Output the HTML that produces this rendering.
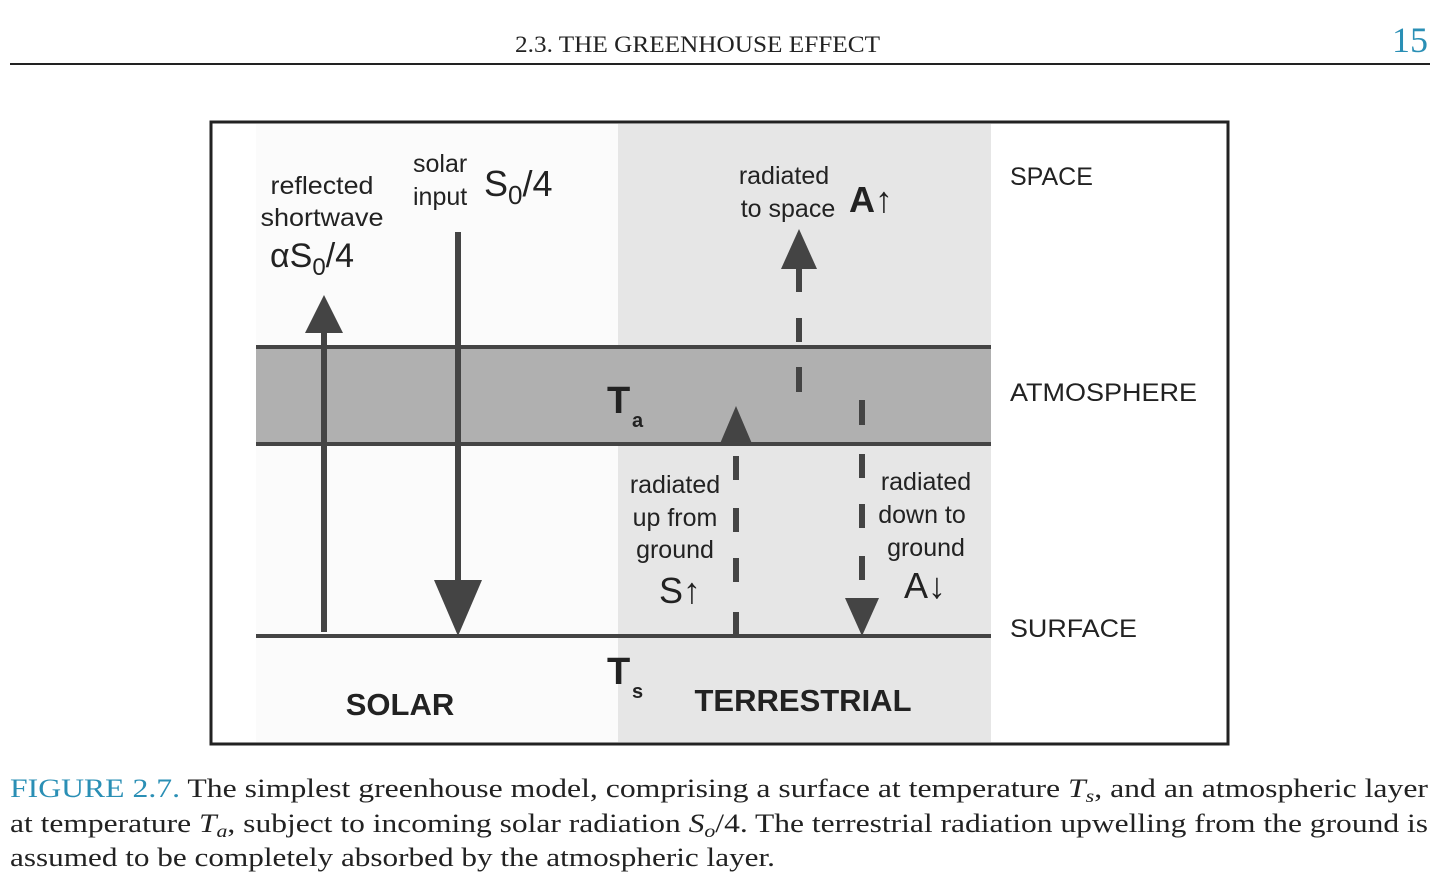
<!DOCTYPE html>
<html><head><meta charset="utf-8"><style>
html,body{margin:0;padding:0;background:#fff;width:1441px;height:881px;overflow:hidden}
svg{display:block}
.s{font-family:"Liberation Sans",sans-serif;fill:#222}
.r{font-family:"Liberation Serif",serif;fill:#222}
</style></head><body>
<svg width="1441" height="881" viewBox="0 0 1441 881" xmlns="http://www.w3.org/2000/svg">
<text x="515" y="52" class="r" font-size="23" textLength="365" lengthAdjust="spacingAndGlyphs">2.3.  THE GREENHOUSE EFFECT</text>
<text x="1428" y="52" class="r" font-size="36" text-anchor="end" style="fill:#2a8fb5">15</text>
<rect x="10" y="63" width="1420" height="2" fill="#222"/>

<rect x="211" y="122" width="1017" height="622" fill="#fff" stroke="#222" stroke-width="3"/>
<rect x="256" y="124" width="362" height="618" fill="#fbfbfb"/>
<rect x="618" y="124" width="373" height="618" fill="#e6e6e6"/>
<rect x="256" y="347" width="735" height="97" fill="#b0b0b0"/>
<rect x="256" y="345" width="735" height="4" fill="#444"/>
<rect x="256" y="442" width="735" height="4" fill="#444"/>
<rect x="256" y="634" width="735" height="4" fill="#444"/>

<g fill="#444">
<rect x="321" y="325" width="6" height="307"/>
<polygon points="324,295 305,333 343,333"/>
<rect x="455" y="232" width="6" height="360"/>
<polygon points="434,580 482,580 458,636"/>
<rect x="796" y="268" width="6" height="24"/>
<rect x="796" y="318" width="6" height="24"/>
<rect x="796" y="367" width="6" height="25"/>
<polygon points="799,229 781,269 817,269"/>
<rect x="733" y="456" width="6" height="24"/>
<rect x="733" y="508" width="6" height="24"/>
<rect x="733" y="558" width="6" height="24"/>
<rect x="733" y="612" width="6" height="24"/>
<polygon points="736,406 719,446 753,446"/>
<rect x="859" y="400" width="6" height="25"/>
<rect x="859" y="454" width="6" height="24"/>
<rect x="859" y="504" width="6" height="24"/>
<rect x="859" y="556" width="6" height="24"/>
<polygon points="845,598 879,598 862,636"/>
</g>

<g class="s" font-size="25">
<text x="322" y="194" text-anchor="middle" textLength="103" lengthAdjust="spacingAndGlyphs">reflected</text>
<text x="322" y="226" text-anchor="middle" textLength="123" lengthAdjust="spacingAndGlyphs">shortwave</text>
<text x="270" y="267" font-size="34">αS<tspan font-size="24" dy="8">0</tspan><tspan dy="-8">/4</tspan></text>
<text x="413" y="172">solar</text>
<text x="413" y="205">input</text>
<text x="484" y="196" font-size="36">S<tspan font-size="26" dy="8">0</tspan><tspan dy="-8">/4</tspan></text>
<text x="784" y="184" text-anchor="middle">radiated</text>
<text x="788" y="217" text-anchor="middle">to space</text>
<text x="849" y="212" font-size="36" font-weight="bold">A↑</text>
<text x="607" y="413" font-size="38" font-weight="bold">T</text>
<text x="632" y="427" font-size="20" font-weight="bold">a</text>
<text x="675" y="493" text-anchor="middle">radiated</text>
<text x="675" y="526" text-anchor="middle">up from</text>
<text x="675" y="558" text-anchor="middle">ground</text>
<text x="680" y="603" text-anchor="middle" font-size="36">S↑</text>
<text x="926" y="490" text-anchor="middle">radiated</text>
<text x="922" y="523" text-anchor="middle">down to</text>
<text x="926" y="556" text-anchor="middle">ground</text>
<text x="925" y="598" text-anchor="middle" font-size="36">A↓</text>
<text x="607" y="684" font-size="38" font-weight="bold">T</text>
<text x="632" y="698" font-size="20" font-weight="bold">s</text>
<text x="400" y="715" text-anchor="middle" font-size="31" font-weight="bold">SOLAR</text>
<text x="803" y="711" text-anchor="middle" font-size="31" font-weight="bold">TERRESTRIAL</text>
<text x="1010" y="185">SPACE</text>
<text x="1010" y="401" textLength="187" lengthAdjust="spacingAndGlyphs">ATMOSPHERE</text>
<text x="1010" y="637" textLength="127" lengthAdjust="spacingAndGlyphs">SURFACE</text>
</g>

<g class="r" font-size="26">
<text x="10" y="797" textLength="1418" lengthAdjust="spacingAndGlyphs"><tspan style="fill:#2a8fb5">FIGURE 2.7.</tspan>   The simplest greenhouse model, comprising a surface at temperature <tspan font-style="italic">T<tspan font-size="18" dy="5">s</tspan></tspan><tspan dy="-5">, and an atmospheric layer</tspan></text>
<text x="10" y="832" textLength="1418" lengthAdjust="spacingAndGlyphs">at temperature <tspan font-style="italic">T<tspan font-size="18" dy="5">a</tspan></tspan><tspan dy="-5">, subject to incoming solar radiation </tspan><tspan font-style="italic">S<tspan font-size="18" dy="5">o</tspan></tspan><tspan dy="-5">/4. The terrestrial radiation upwelling from the ground is</tspan></text>
<text x="10" y="866" textLength="765" lengthAdjust="spacingAndGlyphs">assumed to be completely absorbed by the atmospheric layer.</text>
</g>
</svg>
</body></html>
